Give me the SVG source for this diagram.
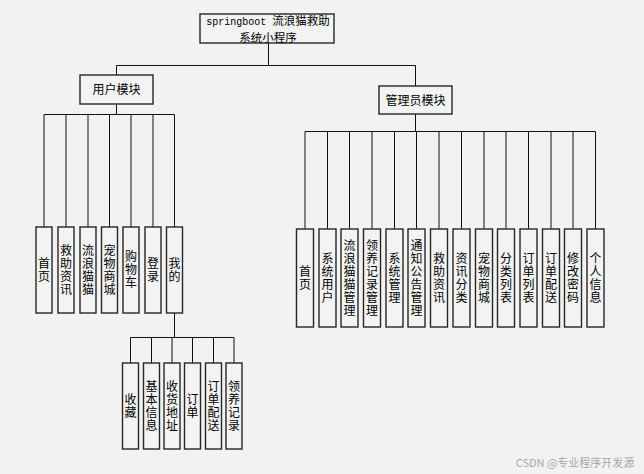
<svg xmlns="http://www.w3.org/2000/svg" width="644" height="474" viewBox="0 0 644 474">
<style>
.bg{fill:#f2f2f2}
.box{fill:#f3f3f3;stroke:#262626;stroke-width:1.4}
.ln{stroke:#111;stroke-width:1;fill:none}
text{font-family:"Noto Sans CJK SC","Liberation Sans",sans-serif;font-size:12px;fill:#000;text-anchor:middle}
.t{font-size:11.5px}
.v{writing-mode:vertical-rl;letter-spacing:1px}
.wm{font-size:11px;fill:#a8a8a8}
</style>
<rect class="bg" x="0" y="0" width="644" height="474"/>
<g id="connectors">
<path class="ln" d="M268.5 43V65.5M116.5 65.5H415.5M116.5 65.5V75M415.5 65.5V86"/>
<path class="ln" d="M116.5 104V114.5M44 114.5H174.5M44 114.5V227M66 114.5V227M88 114.5V227M109.5 114.5V227M131 114.5V227M153 114.5V227M174.5 114.5V227"/>
<path class="ln" d="M415.5 114V131.5M305 131.5H595.5M305 131.5V229M327.5 131.5V229M349.5 131.5V229M372 131.5V229M394.5 131.5V229M416.5 131.5V229M439 131.5V229M461.5 131.5V229M484 131.5V229M506 131.5V229M528.5 131.5V229M551 131.5V229M573 131.5V229M595.5 131.5V229"/>
<path class="ln" d="M174.5 313V337.5M130.5 337.5H234M130.5 337.5V363M151.5 337.5V363M172 337.5V363M192.5 337.5V363M213.5 337.5V363M234 337.5V363"/>
</g>
<g id="root">
<rect class="box" x="200" y="14" width="134" height="29"/>
<text class="t" x="268" y="24.5"><tspan font-family="Liberation Mono" font-size="10">springboot </tspan><tspan>流浪猫救助</tspan></text>
<text class="t" x="268" y="41.5">系统小程序</text>
</g>
<g id="user">
<rect class="box" x="80" y="75" width="73" height="29"/>
<text x="116.5" y="94">用户模块</text>
</g>
<g id="admin">
<rect class="box" x="379" y="86" width="73" height="28"/>
<text x="415.5" y="105">管理员模块</text>
</g>
<g id="u1"><rect class="box" x="36" y="227" width="16" height="86"/><text class="v" x="44" y="270">首页</text></g>
<g id="u2"><rect class="box" x="58" y="227" width="16" height="86"/><text class="v" x="66" y="270">救助资讯</text></g>
<g id="u3"><rect class="box" x="80" y="227" width="16" height="86"/><text class="v" x="88" y="270">流浪猫猫</text></g>
<g id="u4"><rect class="box" x="101.5" y="227" width="16" height="86"/><text class="v" x="109.5" y="270">宠物商城</text></g>
<g id="u5"><rect class="box" x="123" y="227" width="16" height="86"/><text class="v" x="131" y="270">购物车</text></g>
<g id="u6"><rect class="box" x="145" y="227" width="16" height="86"/><text class="v" x="153" y="270">登录</text></g>
<g id="u7"><rect class="box" x="166.5" y="227" width="16" height="86"/><text class="v" x="174.5" y="270">我的</text></g>
<g id="s1"><rect class="box" x="122.5" y="363" width="16" height="86"/><text class="v" x="130.5" y="406">收藏</text></g>
<g id="s2"><rect class="box" x="143.5" y="363" width="16" height="86"/><text class="v" x="151.5" y="406">基本信息</text></g>
<g id="s3"><rect class="box" x="164" y="363" width="16" height="86"/><text class="v" x="172" y="406">收货地址</text></g>
<g id="s4"><rect class="box" x="184.5" y="363" width="16" height="86"/><text class="v" x="192.5" y="406">订单</text></g>
<g id="s5"><rect class="box" x="205.5" y="363" width="16" height="86"/><text class="v" x="213.5" y="406">订单配送</text></g>
<g id="s6"><rect class="box" x="226" y="363" width="16" height="86"/><text class="v" x="234" y="406">领养记录</text></g>
<g id="a1"><rect class="box" x="296.5" y="229" width="17" height="98"/><text class="v" x="305" y="278">首页</text></g>
<g id="a2"><rect class="box" x="319" y="229" width="17" height="98"/><text class="v" x="327.5" y="278">系统用户</text></g>
<g id="a3"><rect class="box" x="341" y="229" width="17" height="98"/><text class="v" x="349.5" y="278">流浪猫猫管理</text></g>
<g id="a4"><rect class="box" x="363.5" y="229" width="17" height="98"/><text class="v" x="372" y="278">领养记录管理</text></g>
<g id="a5"><rect class="box" x="386" y="229" width="17" height="98"/><text class="v" x="394.5" y="278">系统管理</text></g>
<g id="a6"><rect class="box" x="408" y="229" width="17" height="98"/><text class="v" x="416.5" y="278">通知公告管理</text></g>
<g id="a7"><rect class="box" x="430.5" y="229" width="17" height="98"/><text class="v" x="439" y="278">救助资讯</text></g>
<g id="a8"><rect class="box" x="453" y="229" width="17" height="98"/><text class="v" x="461.5" y="278">资讯分类</text></g>
<g id="a9"><rect class="box" x="475.5" y="229" width="17" height="98"/><text class="v" x="484" y="278">宠物商城</text></g>
<g id="a10"><rect class="box" x="497.5" y="229" width="17" height="98"/><text class="v" x="506" y="278">分类列表</text></g>
<g id="a11"><rect class="box" x="520" y="229" width="17" height="98"/><text class="v" x="528.5" y="278">订单列表</text></g>
<g id="a12"><rect class="box" x="542.5" y="229" width="17" height="98"/><text class="v" x="551" y="278">订单配送</text></g>
<g id="a13"><rect class="box" x="564.5" y="229" width="17" height="98"/><text class="v" x="573" y="278">修改密码</text></g>
<g id="a14"><rect class="box" x="587" y="229" width="17" height="98"/><text class="v" x="595.5" y="278">个人信息</text></g>
<text class="wm" x="575" y="467">CSDN @专业程序开发源</text>
</svg>
